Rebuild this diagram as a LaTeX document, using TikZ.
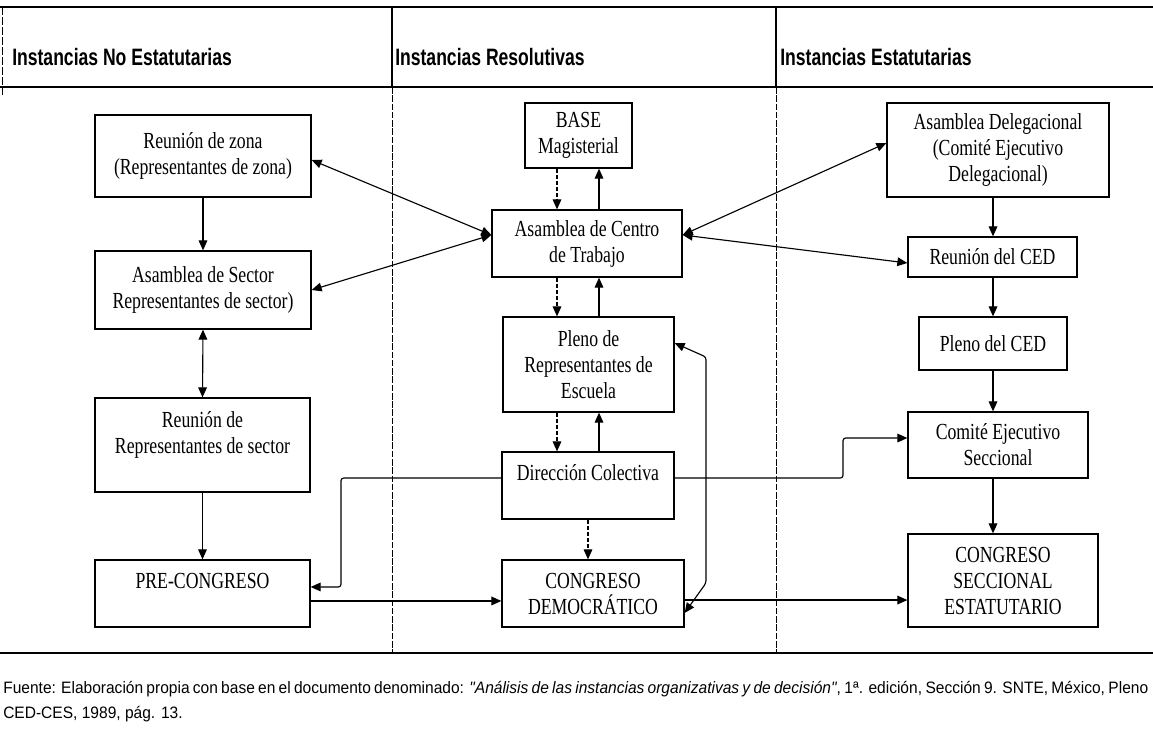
\documentclass[tikz,border=0pt]{standalone}
\usepackage{fontspec}
\usetikzlibrary{arrows.meta}
\newfontfamily\boxfont{Liberation Serif}[FakeStretch=0.77]
\newfontfamily\headfont{Liberation Sans}[FakeStretch=0.74]
\newfontfamily\notefont{Liberation Sans}[FakeStretch=0.94]

\begin{document}
\begin{tikzpicture}[x=0.75pt,y=-0.75pt,
  box/.style={draw, line width=0.95pt, align=center, inner sep=0pt,
    font=\boxfont\fontsize{17.25}{19.5}\selectfont},
  head/.style={anchor=base west, inner sep=0pt,
    font=\headfont\bfseries\fontsize{17.8}{20}\selectfont},
  note/.style={anchor=base west, inner sep=0pt,
    font=\notefont\fontsize{12.4}{15}\selectfont},
  link/.style={line width=0.85pt, -{Triangle[length=7.5pt,width=6.5pt]}},
  dlink/.style={line width=0.85pt, {Triangle[length=7.5pt,width=6.5pt]}-{Triangle[length=7.5pt,width=6.5pt]}},
  dlinkdash/.style={link, dash pattern=on 3pt off 1.5pt},
  frame/.style={line width=1.5pt},
  divider/.style={line width=0.6pt, dash pattern=on 5pt off 1.2pt}]

\fill[white] (0,0) rectangle (1153,729);
\useasboundingbox (0,0) rectangle (1153,729);

% frame of the table
\draw[frame] (0,7) -- (1153,7);
\draw[frame] (0,87) -- (1153,87);
\draw[frame] (0,653) -- (1153,653);
\draw[line width=0.6pt, dash pattern=on 6pt off 1.5pt] (2.5,7) -- (2.5,95);
\draw[line width=0.9pt] (392,7) -- (392,87);
\draw[line width=0.9pt] (776,7) -- (776,87);
\draw[divider] (392,87) -- (392,653);
\draw[divider] (776,87) -- (776,653);

% column headings
\node[head] (h1) at (12,65.5) {Instancias No Estatutarias};
\node[head] (h2) at (395,65.5) {Instancias Resolutivas};
\node[head] (h3) at (780,65.5) {Instancias Estatutarias};

% left column
\node[box, minimum width=162pt, minimum height=61.5pt] (zona) at (203,156)
  {Reunión de zona\\(Representantes de zona)};
\node[box, minimum width=162pt, minimum height=58.5pt] (sector) at (203,290)
  {Asamblea de Sector\\Representantes de sector)};
\node[box, minimum width=161.25pt, minimum height=70.5pt] (reprs) at (202.5,445)
  {Reunión de\\Representantes de sector\\\mbox{}};
\node[box, minimum width=161.25pt, minimum height=50.25pt] (pre) at (202.5,593.5)
  {PRE-CONGRESO\\\mbox{}};

% middle column
\node[box, minimum width=80.25pt, minimum height=48.75pt] (base) at (578.5,135.5)
  {BASE\\Magisterial};
\node[box, minimum width=142.5pt, minimum height=50.25pt] (centro) at (587,243.5)
  {Asamblea de Centro\\de Trabajo};
\node[box, minimum width=128.25pt, minimum height=71.25pt] (pleno) at (588.5,364.5)
  {Pleno de\\Representantes de\\Escuela};
\node[box, minimum width=129pt, minimum height=50.25pt] (direc) at (588,485.5)
  {Dirección Colectiva\\\mbox{}};
\node[box, minimum width=136.5pt, minimum height=50.25pt] (cdem) at (593,593.5)
  {CONGRESO\\DEMOCRÁTICO};

% right column
\node[box, minimum width=166.5pt, minimum height=70.5pt] (adel) at (998,150)
  {Asamblea Delegacional\\(Comité Ejecutivo\\Delegacional)};
\node[box, minimum width=126.75pt, minimum height=30pt] (rced) at (992.5,257)
  {Reunión del CED};
\node[box, minimum width=111pt, minimum height=39.75pt] (pced) at (993,343.5)
  {Pleno del CED};
\node[box, minimum width=135pt, minimum height=49.5pt] (ces) at (998,445)
  {Comité Ejecutivo\\Seccional};
\node[box, minimum width=142.5pt, minimum height=69.75pt] (csec) at (1003,580.5)
  {CONGRESO\\SECCIONAL\\ESTATUTARIO};

% reference columns for the vertical links
\coordinate (xdown) at (557,0);
\coordinate (xup) at (599,0);
\coordinate (xmid) at (588,0);
\coordinate (xstat) at (993,0);
\coordinate (xleft) at (341,0);
\coordinate (xright) at (843,0);
\coordinate (lp1) at (706,583);
\coordinate (lp2) at (706,357);

% left column links
\draw[link] (zona.south) -- (sector.north);
\draw[dlink] (sector.south) -- (reprs.north);
\draw[link] (reprs.south) -- (pre.north);

% middle column links
\draw[dlinkdash] (xdown |- base.south) -- (xdown |- centro.north);
\draw[link] (xup |- centro.north) -- (xup |- base.south);
\draw[dlinkdash] (xdown |- centro.south) -- (xdown |- pleno.north);
\draw[link] (xup |- pleno.north) -- (xup |- centro.south);
\draw[dlinkdash] (xdown |- pleno.south) -- (xdown |- direc.north);
\draw[link] (xup |- direc.north) -- (xup |- pleno.south);
\draw[dlinkdash] (xmid |- direc.south) -- (xmid |- cdem.north);

% right column links
\draw[link] (xstat |- adel.south) -- (xstat |- rced.north);
\draw[link] (xstat |- rced.south) -- (xstat |- pced.north);
\draw[link] (xstat |- pced.south) -- (xstat |- ces.north);
\draw[link] (xstat |- ces.south) -- (xstat |- csec.north);

% links from the work-centre assembly to both sides
\coordinate (cl) at ([yshift=6.4pt]centro.west);
\coordinate (cr) at ([yshift=6.4pt]centro.east);
\draw[dlink] (cl) -- ([yshift=-3pt]zona.east);
\draw[dlink] (cl) -- (sector.east);
\draw[dlink] (cr) -- ([yshift=5.25pt]adel.west);
\draw[dlink] (cr) -- ([yshift=-4.5pt]rced.west);

% links from the collective direction
\coordinate (dl) at ([yshift=5.6pt]direc.west);
\coordinate (dr) at ([yshift=5.6pt]direc.east);
\coordinate (pin) at ([yshift=4.9pt]pre.east);
\coordinate (cin) at ([yshift=5.25pt]ces.west);
\draw[link, rounded corners=2pt] (dl) -| (xleft |- pin) -- (pin);
\draw[link, rounded corners=2pt] (dr) -| (xright |- cin) -- (cin);

% links between the congresses
\coordinate (pout) at ([yshift=-5.6pt]pre.east);
\draw[link] (pout) -- (pout -| cdem.west);
\coordinate (cout) at ([yshift=-4.9pt]cdem.east);
\draw[link] (cout) -- (cout -| csec.west);

% loop between the democratic congress and the school plenary
\draw[dlink, rounded corners=2pt] ([yshift=-14.6pt]cdem.east) -- (lp1) -- (lp2)
  -- ([yshift=16.1pt]pleno.east);

% source note
\node[note] (f1) at (3,693) {\makebox[858.75pt][s]{Fuente: Elaboración propia con base en el documento denominado: \textit{"Análisis de las instancias organizativas y de decisión"}, 1ª. edición, Sección 9. SNTE, México, Pleno}};
\node[note] (f2) at (3,718) {CED-CES, 1989, pág. 13.};

\end{tikzpicture}
\end{document}
